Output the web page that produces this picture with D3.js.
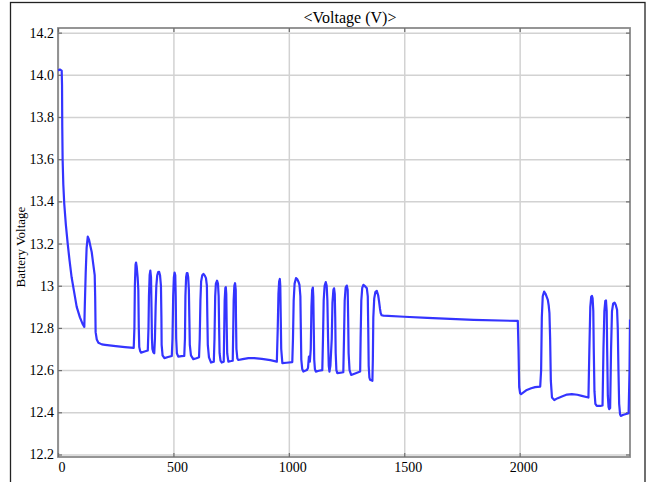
<html lang="en">
<head>
  <meta charset="UTF-8"/>
  <title>Voltage (V)</title>
  <script src="https://d3js.org/d3.v7.min.js"></script>
  <style>
    body { margin: 0; background: #fff; }
    svg { display: block; }
    svg text { font-family: 'Liberation Serif', 'Times New Roman', serif; fill: #000; }
    .grid line { stroke: #d2d2d2; stroke-width: 1.5; }
    .grid path { display: none; }
    .axis path { display: none; }
    .axis line { stroke: #6e6e6e; stroke-width: 1.2; }
    .axis text { font-size: 14px; }
  </style>
</head>
<body>
<svg width="649" height="482"></svg>
<script>
  // time (x) and battery voltage (y)
  const time = [
    0, 8, 16, 17.5, 18.5, 20, 23, 27, 34, 42, 50, 59, 70, 81, 95, 106, 114,
    116, 120, 124, 129, 134, 140, 146, 153, 159, 161, 163, 168, 175, 190, 204, 250, 290, 328,
    331, 333, 336, 338, 341, 345, 348, 350, 352, 356, 360, 375, 389,
    392, 394, 397, 400, 403, 405, 407, 409, 413, 417,
    420, 423, 426, 430, 434, 438, 442, 446, 448, 449, 453, 461, 477, 493,
    496, 499, 502, 505, 508, 510, 512, 515, 521, 535, 547,
    550, 552, 555, 558, 561, 564, 567, 569, 571, 576, 586, 600, 611,
    614, 617, 620, 625, 630, 636, 641, 645, 647, 649, 654, 663, 675,
    678, 681, 684, 689, 693, 696, 698, 700, 704, 709, 718,
    720, 722, 725, 727, 729, 731, 733, 738, 750, 757,
    759, 761, 764, 767, 770, 771, 773, 777, 781, 800, 825, 850, 883, 920, 948,
    952, 955, 958, 961, 963, 965, 967, 972, 990, 1015,
    1018, 1021, 1025, 1031, 1037, 1042, 1046, 1050, 1052, 1054, 1058, 1063, 1078,
    1083, 1087, 1091, 1095, 1098, 1101, 1104, 1106, 1108, 1110, 1113, 1117, 1130, 1145,
    1148, 1151, 1155, 1160, 1164, 1167, 1170, 1173, 1176, 1180,
    1186, 1189, 1193, 1196, 1199, 1201, 1203, 1206, 1210, 1225, 1236,
    1239, 1242, 1246, 1251, 1255, 1257, 1259, 1263, 1270, 1290, 1309,
    1311, 1314, 1318, 1323, 1330, 1338, 1342, 1344, 1346, 1349, 1352, 1362,
    1364, 1366, 1370, 1375, 1381, 1387, 1391, 1395, 1398, 1402, 1410,
    1500, 1600, 1699, 1800, 1992,
    1995, 1998, 2002, 2006, 2015, 2031, 2050, 2067, 2089,
    2093, 2096, 2100, 2106, 2112, 2118, 2122, 2126, 2129, 2132, 2135, 2140, 2150, 2165, 2183, 2205, 2226, 2250, 2269, 2298,
    2302, 2306, 2310, 2313, 2316, 2319, 2321, 2324, 2328, 2334, 2350, 2359,
    2363, 2367, 2371, 2374, 2377, 2379, 2382, 2385, 2388, 2392,
    2396, 2400, 2405, 2411, 2416, 2422, 2425, 2428, 2431, 2435, 2438, 2450, 2465, 2472, 2476, 2478
  ];
  const voltage = [
    14.02, 14.025, 14.02, 13.95, 13.75, 13.6, 13.48, 13.39, 13.29, 13.20, 13.12, 13.04, 12.97, 12.90, 12.85, 12.82, 12.805,
    12.90, 13.06, 13.18, 13.233, 13.22, 13.19, 13.16, 13.10, 13.05, 12.95, 12.78, 12.745, 12.73, 12.722, 12.72, 12.714, 12.709, 12.705,
    12.80, 13.0, 13.10, 13.11, 13.09, 13.04, 12.98, 12.80, 12.71, 12.69, 12.683, 12.688, 12.693,
    12.80, 12.95, 13.05, 13.072, 13.04, 12.90, 12.75, 12.70, 12.685, 12.68,
    12.75, 12.90, 13.0, 13.05, 13.065, 13.066, 13.05, 13.0, 12.85, 12.72, 12.67, 12.657, 12.662, 12.667,
    12.75, 12.95, 13.04, 13.062, 13.05, 12.95, 12.75, 12.68, 12.664, 12.666, 12.667,
    12.75, 12.95, 13.04, 13.06, 13.06, 13.04, 12.98, 12.85, 12.72, 12.67, 12.652, 12.656, 12.661,
    12.75, 12.93, 13.02, 13.05, 13.056, 13.048, 13.036, 13.0, 12.85, 12.72, 12.66, 12.636, 12.64,
    12.75, 12.95, 13.01, 13.024, 13.01, 12.95, 12.80, 12.68, 12.645, 12.636, 12.64,
    12.78, 12.93, 12.99, 12.993, 12.96, 12.80, 12.68, 12.64, 12.643, 12.645,
    12.78, 12.93, 13.0, 13.012, 12.98, 12.85, 12.70, 12.655, 12.648, 12.652, 12.657, 12.657, 12.653, 12.647, 12.64,
    12.80, 12.96, 13.02, 13.032, 13.0, 12.85, 12.70, 12.633, 12.635, 12.638,
    12.75, 12.93, 13.01, 13.036, 13.03, 13.018, 13.004, 12.95, 12.80, 12.65, 12.605, 12.593, 12.60,
    12.61, 12.664, 12.64, 12.70, 12.90, 12.98, 12.991, 12.95, 12.80, 12.65, 12.605, 12.593, 12.597, 12.60,
    12.75, 12.93, 13.0, 13.017, 13.0, 12.93, 12.75, 12.62, 12.593, 12.62,
    12.75, 12.92, 12.98, 12.988, 12.96, 12.85, 12.68, 12.60, 12.586, 12.588, 12.59,
    12.75, 12.93, 12.99, 13.001, 12.98, 12.85, 12.68, 12.60, 12.577, 12.585, 12.593,
    12.75, 12.93, 12.99, 13.004, 12.998, 12.988, 12.95, 12.80, 12.62, 12.565, 12.554, 12.549,
    12.65, 12.85, 12.94, 12.97, 12.976, 12.955, 12.925, 12.89, 12.87, 12.86, 12.858,
    12.853, 12.848, 12.843, 12.838, 12.833,
    12.70, 12.52, 12.49, 12.486, 12.493, 12.506, 12.514, 12.519, 12.522,
    12.60, 12.85, 12.95, 12.972, 12.962, 12.945, 12.933, 12.905, 12.87, 12.75, 12.55, 12.47, 12.458, 12.467, 12.475, 12.484, 12.486, 12.483, 12.478, 12.47,
    12.70, 12.90, 12.948, 12.952, 12.94, 12.88, 12.70, 12.50, 12.44, 12.43, 12.43, 12.432,
    12.70, 12.88, 12.928, 12.93, 12.88, 12.70, 12.48, 12.425, 12.415, 12.42,
    12.70, 12.88, 12.915, 12.92, 12.91, 12.886, 12.80, 12.60, 12.44, 12.39, 12.383, 12.388, 12.393, 12.396, 12.60, 12.84
  ];

  const xTicks = [0, 500, 1000, 1500, 2000];
  const xTickLabels = ['0', '500', '1000', '1500', '2000'];
  const yTicks = [12.2, 12.4, 12.6, 12.8, 13, 13.2, 13.4, 13.6, 13.8, 14.0, 14.2];
  const yTickLabels = ['12.2', '12.4', '12.6', '12.8', '13', '13.2', '13.4', '13.6', '13.8', '14.0', '14.2'];

  const svg = d3.select('svg');

  const plotLeft = 58, plotTop = 28, plotRight = 630, plotBottom = 457;
  const width = plotRight - plotLeft;
  const height = plotBottom - plotTop;

  // outer frame
  svg.append('rect')
    .attr('x', 10.5).attr('y', 2.5)
    .attr('width', 634.5).attr('height', 500)
    .attr('fill', 'none')
    .attr('stroke', '#222')
    .attr('stroke-width', 1.3);

  const chart = svg.append('g')
    .attr('transform', `translate(${plotLeft}, ${plotTop})`);

  const xScale = d3.scaleLinear()
    .domain([0, 2478])
    .range([0, width]);

  const yScale = d3.scaleLinear()
    .domain([12.188, 14.222])
    .range([height, 0]);

  // grid
  chart.append('g')
    .attr('class', 'grid')
    .attr('transform', `translate(0, ${height})`)
    .call(d3.axisBottom(xScale).tickValues(xTicks).tickSize(-height).tickFormat(''));

  chart.append('g')
    .attr('class', 'grid')
    .call(d3.axisLeft(yScale).tickValues(yTicks).tickSize(-width).tickFormat(''));

  // axes box
  chart.append('rect')
    .attr('width', width)
    .attr('height', height)
    .attr('fill', 'none')
    .attr('stroke', '#8a8a8a')
    .attr('stroke-width', 1.8);

  // ticks on all four sides, pointing in
  chart.append('g')
    .attr('class', 'axis')
    .attr('transform', `translate(0, ${height})`)
    .call(d3.axisBottom(xScale).tickValues(xTicks).tickSizeInner(-4).tickSizeOuter(0).tickPadding(5)
      .tickFormat((d, i) => xTickLabels[i]))
    .selectAll('text')
    .attr('dx', '0.25em');

  chart.append('g')
    .attr('class', 'axis')
    .call(d3.axisTop(xScale).tickValues(xTicks).tickSizeInner(-4).tickSizeOuter(0).tickFormat(''));

  chart.append('g')
    .attr('class', 'axis')
    .call(d3.axisLeft(yScale).tickValues(yTicks).tickSizeInner(-4).tickSizeOuter(0).tickPadding(4)
      .tickFormat((d, i) => yTickLabels[i]));

  chart.append('g')
    .attr('class', 'axis')
    .attr('transform', `translate(${width}, 0)`)
    .call(d3.axisRight(yScale).tickValues(yTicks).tickSizeInner(-4).tickSizeOuter(0).tickFormat(''));

  chart.append('clipPath')
    .attr('id', 'clip')
    .append('rect')
    .attr('width', width)
    .attr('height', height);

  const line = d3.line()
    .x((d, i) => xScale(time[i]))
    .y((d) => yScale(d));

  chart.append('path')
    .datum(voltage)
    .attr('clip-path', 'url(#clip)')
    .attr('fill', 'none')
    .attr('stroke', '#3434ff')
    .attr('stroke-width', 2.2)
    .attr('stroke-linejoin', 'round')
    .attr('d', line);

  svg.append('text')
    .attr('x', 350)
    .attr('y', 23)
    .attr('text-anchor', 'middle')
    .style('font-size', '16px')
    .text('<Voltage (V)>');

  svg.append('text')
    .attr('transform', 'translate(25, 247) rotate(-90)')
    .attr('text-anchor', 'middle')
    .style('font-size', '13px')
    .text('Battery Voltage');
</script>
</body>
</html>
